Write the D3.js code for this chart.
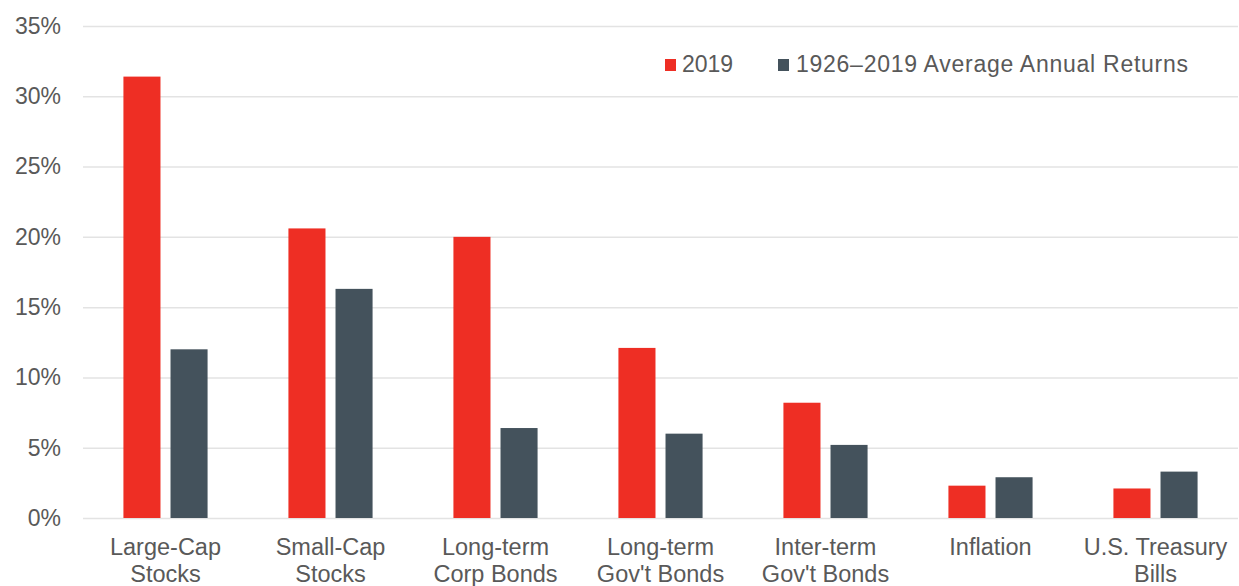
<!DOCTYPE html>
<html>
<head>
<meta charset="utf-8">
<script src="https://cdn.jsdelivr.net/npm/d3@7"></script>
<style>
  body { margin: 0; background: #fff; }
  svg { display: block; font-family: "Liberation Sans", Arial, sans-serif; }
  .tick text { fill: #595959; }
</style>
</head>
<body>
<svg width="1239" height="586"></svg>
<script>
// chart data
const categories = [
  ['Large-Cap', 'Stocks'],
  ['Small-Cap', 'Stocks'],
  ['Long-term', 'Corp Bonds'],
  ['Long-term', "Gov't Bonds"],
  ['Inter-term', "Gov't Bonds"],
  ['Inflation'],
  ['U.S. Treasury', 'Bills']
];
const seriesNames = ['2019', '1926\u20132019 Average Annual Returns'];
const returns2019 = [31.4, 20.6, 20.0, 12.1, 8.2, 2.3, 2.1];
const returnsAvg = [12.0, 16.3, 6.4, 6.0, 5.2, 2.9, 3.3];
const yTicks = [0, 5, 10, 15, 20, 25, 30, 35];

const colors = ['#ee2e24', '#44525c'];

const svg = d3.select('svg');
const margin = {top: 26, right: 1, bottom: 68, left: 83};
const width = 1239, height = 586;

const catKeys = categories.map(d => d.join(' '));

const x0 = d3.scaleBand()
  .domain(catKeys)
  .range([margin.left, width - margin.right])
  .paddingInner(0.49)
  .paddingOuter(0.245);

const x1 = d3.scaleBand()
  .domain(seriesNames)
  .range([0, x0.bandwidth()])
  .paddingInner(0.213);

const y = d3.scaleLinear()
  .domain([0, 35])
  .range([height - margin.bottom, margin.top]);

// gridlines + y labels
const yAxis = svg.append('g')
  .attr('transform', `translate(${margin.left},0)`)
  .call(d3.axisLeft(y)
    .tickValues(yTicks)
    .tickSize(-(width - margin.left - margin.right))
    .tickPadding(22)
    .tickFormat(d => d + '%'));
yAxis.select('.domain').remove();
yAxis.selectAll('.tick line').attr('stroke', '#e3e3e3').attr('stroke-width', 1.5);
yAxis.selectAll('.tick text').style('font-size', '23px');

// bars
const rows = catKeys.map((k, i) => ({key: k, vals: [returns2019[i], returnsAvg[i]]}));

const groups = svg.append('g').selectAll('g')
  .data(rows)
  .enter()
  .append('g')
  .attr('transform', d => `translate(${x0(d.key)},0)`);

groups.selectAll('rect')
  .data(d => d.vals.map((v, j) => ({name: seriesNames[j], v: v, j: j})))
  .enter()
  .append('rect')
  .attr('x', d => x1(d.name))
  .attr('width', x1.bandwidth())
  .attr('y', d => y(d.v))
  .attr('height', d => y(0) - y(d.v))
  .attr('fill', d => colors[d.j]);

// category labels
const xLabels = svg.append('g');
categories.forEach((lines, i) => {
  const cx = x0(catKeys[i]) + x0.bandwidth() / 2;
  const t = xLabels.append('text')
    .attr('text-anchor', 'middle')
    .attr('fill', '#595959')
    .style('font-size', '23.5px');
  lines.forEach((ln, k) => {
    t.append('tspan')
      .attr('x', cx)
      .attr('y', y(0) + 37 + k * 27)
      .text(ln);
  });
});

// legend
const legend = svg.append('g');
const legendPos = [{sx: 665, tx: 682, w: null}, {sx: 778, tx: 796, w: 392}];
seriesNames.forEach((name, i) => {
  legend.append('rect')
    .attr('x', legendPos[i].sx)
    .attr('y', 59)
    .attr('width', 11)
    .attr('height', 12)
    .attr('fill', colors[i]);
  const t = legend.append('text')
    .attr('x', legendPos[i].tx)
    .attr('y', 72)
    .attr('fill', '#595959')
    .style('font-size', '23px')
    .text(name);
  if (legendPos[i].w) t.attr('textLength', legendPos[i].w).attr('lengthAdjust', 'spacing');
});
</script>
</body>
</html>
